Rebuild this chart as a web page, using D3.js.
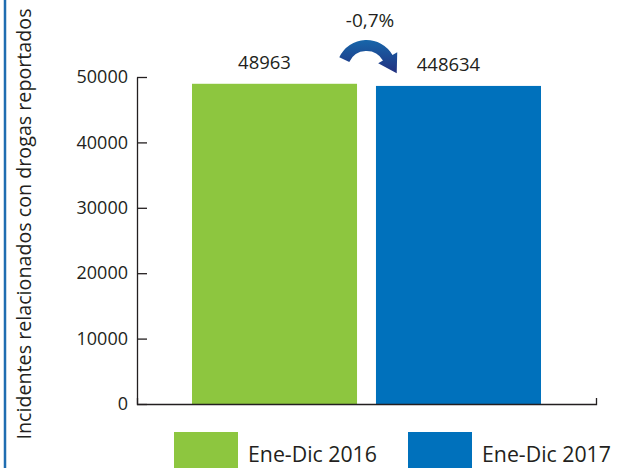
<!DOCTYPE html>
<html>
<head>
<meta charset="utf-8">
<script src="https://cdn.jsdelivr.net/npm/d3@7"></script>
<style>
  body { margin: 0; background: #fff; }
  svg { display: block; font-family: "Open Sans", sans-serif; }
</style>
</head>
<body>
<div id="chart"></div>
<script>
const width = 623, height = 468;

// data
const categories = ["Ene-Dic 2016", "Ene-Dic 2017"];
const values = [48963, 48634];
const valueLabels = ["48963", "448634"];
const colors = ["#8dc63f", "#0071bc"];
const yTicks = [0, 10000, 20000, 30000, 40000, 50000];
const changeLabel = "-0,7%";

const svg = d3.select("#chart")
    .append("svg")
    .attr("width", width)
    .attr("height", height);

// left border line
svg.append("line")
    .attr("x1", 5).attr("x2", 5)
    .attr("y1", 0).attr("y2", height)
    .attr("stroke", "#1f6db1")
    .attr("stroke-width", 2.5);

const x = d3.scaleBand()
    .domain(categories)
    .range([137, 596])
    .paddingInner(0.103)
    .paddingOuter(0.299);

const y = d3.scaleLinear()
    .domain([0, 50000])
    .range([404, 77]);

// bars
svg.selectAll(".bar")
    .data(categories)
    .enter()
    .append("rect")
    .attr("class", "bar")
    .attr("x", d => x(d))
    .attr("width", x.bandwidth())
    .attr("y", (d, i) => y(values[i]))
    .attr("height", (d, i) => y(0) - y(values[i]))
    .attr("fill", (d, i) => colors[i]);

// y axis, ticks pointing inward
const yAxis = svg.append("g")
    .attr("transform", "translate(137,0)")
    .call(d3.axisLeft(y).tickValues(yTicks).tickFormat(d3.format("d"))
        .tickSize(-10).tickSizeOuter(0).tickPadding(9));
yAxis.selectAll("path, line").attr("stroke", "#231f20").attr("stroke-width", 1.3);
yAxis.selectAll("text").attr("font-size", 18).attr("fill", "#231f20")
    .attr("font-family", "Open Sans, sans-serif");

// x axis line with small end ticks
const xAxis = svg.append("g")
    .attr("transform", "translate(0,404)")
    .call(d3.axisBottom(x).tickValues([]).tickSizeOuter(-6));
xAxis.select("path").attr("stroke", "#231f20").attr("stroke-width", 1.3);

// value labels
svg.selectAll(".vlabel")
    .data(categories)
    .enter()
    .append("text")
    .attr("class", "vlabel")
    .attr("x", d => x(d) + x.bandwidth() / 2 - 10)
    .attr("y", (d, i) => y(values[i]) - 15)
    .attr("text-anchor", "middle")
    .attr("font-size", 18.5)
    .attr("fill", "#231f20")
    .text((d, i) => valueLabels[i]);

// y axis title
svg.append("text")
    .attr("transform", "translate(31,224) rotate(-90)")
    .attr("text-anchor", "middle")
    .attr("font-size", 19.7)
    .attr("fill", "#231f20")
    .text("Incidentes relacionados con drogas reportados");

// curved arrow between bars
const defs = svg.append("defs");
const grad = defs.append("linearGradient")
    .attr("id", "arrowGrad")
    .attr("x1", 0).attr("y1", 0).attr("x2", 0).attr("y2", 1);
grad.append("stop").attr("offset", "0%").attr("stop-color", "#1766aa");
grad.append("stop").attr("offset", "100%").attr("stop-color", "#22307f");

const cx = (x(categories[0]) + x.bandwidth() + x(categories[1])) / 2, cy = 70;
const ro = 30, ri = 19;
const a0 = 205 * Math.PI / 180, a1 = 330 * Math.PI / 180;
const pt = (r, a) => [cx + r * Math.cos(a), cy + r * Math.sin(a)];
const mid = pt((ro + ri) / 2, a1);
const tan = [-Math.sin(a1), Math.cos(a1)];
const nrm = [Math.cos(a1), Math.sin(a1)];
const p = d3.path();
const s = pt(ro, a0);
p.moveTo(s[0], s[1]);
p.arc(cx, cy, ro, a0, a1, false);
p.lineTo(mid[0] + 11 * nrm[0], mid[1] + 11 * nrm[1]);
p.lineTo(mid[0] + 18 * tan[0], mid[1] + 18 * tan[1]);
p.lineTo(mid[0] - 11 * nrm[0], mid[1] - 11 * nrm[1]);
const ie = pt(ri, a1);
p.lineTo(ie[0], ie[1]);
p.arc(cx, cy, ri, a1, a0, true);
p.closePath();
svg.append("path")
    .attr("d", p.toString())
    .attr("fill", "url(#arrowGrad)");

svg.append("text")
    .attr("x", 370)
    .attr("y", 27)
    .attr("text-anchor", "middle")
    .attr("font-size", 19)
    .attr("fill", "#231f20")
    .text(changeLabel);

// legend
const legendX = [174, 408];
const legend = svg.selectAll(".legend")
    .data(categories)
    .enter()
    .append("g")
    .attr("class", "legend")
    .attr("transform", (d, i) => `translate(${legendX[i]},432)`);
legend.append("rect")
    .attr("width", 64)
    .attr("height", 40)
    .attr("fill", (d, i) => colors[i]);
legend.append("text")
    .attr("x", 74)
    .attr("y", 30)
    .attr("font-size", 21.3)
    .attr("fill", "#231f20")
    .text(d => d);
</script>
</body>
</html>
